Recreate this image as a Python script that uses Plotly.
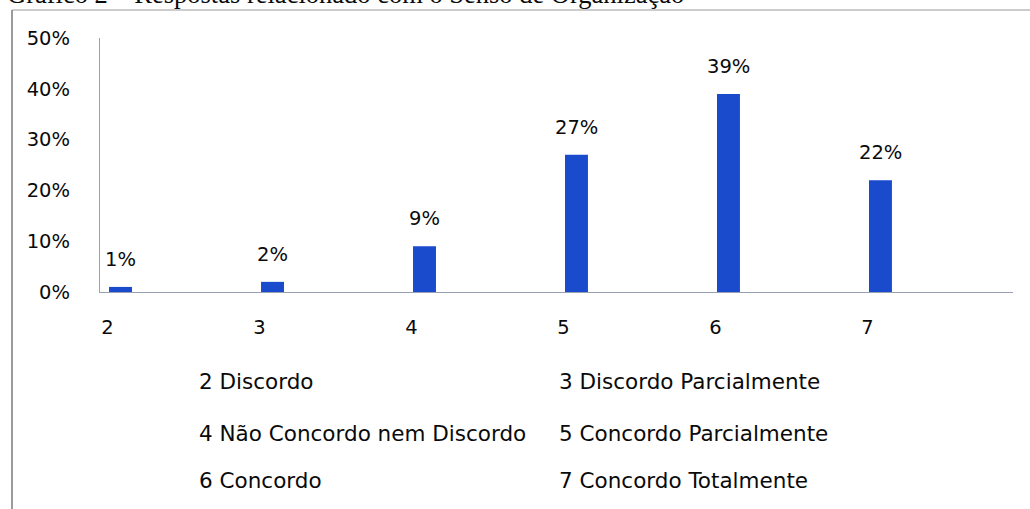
import plotly.graph_objects as go

# ---- data ----
categories = [2, 3, 4, 5, 6, 7]
values = [0.01, 0.02, 0.09, 0.27, 0.39, 0.22]
tick_labels = ["2", "3", "4", "5", "6", "7"]
legend_labels = [
    "2 Discordo", "3 Discordo Parcialmente",
    "4 Não Concordo nem Discordo", "5 Concordo Parcialmente",
    "6 Concordo", "7 Concordo Totalmente",
]
title_text = "Gráfico 2 – Respostas relacionado com o Senso de Organização"

# ---- layout constants (pixels) ----
W, H = 1030, 509
L, R, T, B = 100, 17, 38, 217
PW, PH = W - L - R, H - T - B
FONT = "DejaVu Sans"
TXT = "#0a0a0a"


def px_x(px):
    return (px - L) / PW


def px_y(py):
    return 1 - (py - T) / PH


fig = go.Figure()
fig.add_trace(go.Bar(
    x=categories, y=values, width=0.151,
    marker=dict(color="#1a4bcc", line=dict(width=0)),
    hoverinfo="skip",
))

annotations = []
# data labels
for c, v in zip(categories, values):
    annotations.append(dict(
        x=c, y=v, xref="x", yref="y", text=f"{round(v*100)}%",
        showarrow=False, yanchor="bottom", xanchor="center", yshift=14,
        font=dict(family=FONT, size=19.5, color=TXT),
    ))

# legend-like key text
cols_px = [197, 557]
rows_px = [381, 433, 480]
for i, lab in enumerate(legend_labels):
    annotations.append(dict(
        x=px_x(cols_px[i % 2]), y=px_y(rows_px[i // 2]),
        xref="paper", yref="paper", text=lab, showarrow=False,
        xanchor="left", yanchor="middle",
        font=dict(family=FONT, size=21.5, color=TXT),
    ))

# cropped title at top (only its lower part visible, as in the scan)
annotations.append(dict(
    x=px_x(5), y=px_y(11), xref="paper", yref="paper", text=title_text,
    showarrow=False, xanchor="left", yanchor="bottom",
    font=dict(family="Liberation Serif", size=26.5, color=TXT),
))

shapes = [
    dict(type="line", xref="paper", yref="paper",
         x0=px_x(12), x1=px_x(12), y0=px_y(10), y1=px_y(H + 5),
         line=dict(color="#7a7a7a", width=1.5)),
    dict(type="line", xref="paper", yref="paper",
         x0=px_x(12), x1=px_x(W + 5), y0=px_y(10), y1=px_y(10),
         line=dict(color="#9a9a9a", width=1.2)),
]

fig.update_layout(
    width=W, height=H,
    margin=dict(l=L, r=R, t=T, b=B, pad=0),
    paper_bgcolor="white", plot_bgcolor="white",
    showlegend=False,
    annotations=annotations, shapes=shapes,
    xaxis=dict(
        range=[1.865, 7.872],
        tickvals=[c - 0.086 for c in categories], ticktext=tick_labels,
        showgrid=False, zeroline=False, ticks="",
        showline=True, linecolor="#9aa0b4", linewidth=1.2,
        tickfont=dict(family=FONT, size=19.5, color=TXT),
        ticklabelstandoff=17,
    ),
    yaxis=dict(
        range=[0, 0.5], dtick=0.1, tickformat=".0%",
        showgrid=False, zeroline=False, ticks="",
        showline=True, linecolor="#9aa0b4", linewidth=1.2,
        tickfont=dict(family=FONT, size=19.5, color=TXT),
        ticklabelstandoff=25,
    ),
)

fig.write_html(
    "out.html",
    config={"displayModeBar": False},
    post_script="document.body.style.margin='0px';document.body.style.overflow='hidden';",
)
